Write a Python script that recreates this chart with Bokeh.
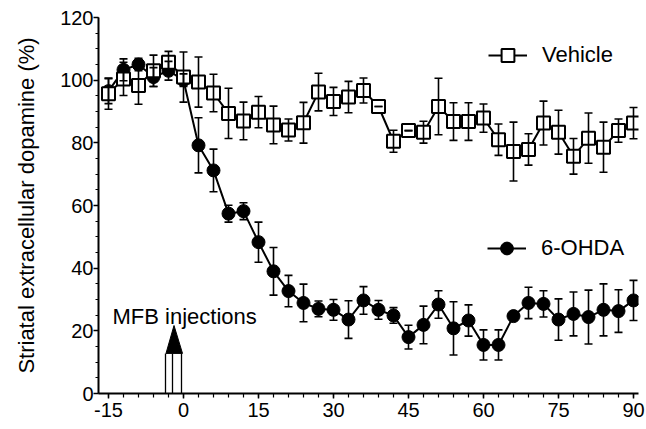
from bokeh.plotting import figure
from bokeh.models import (ColumnDataSource, Whisker, TeeHead, FixedTicker, Range1d,
                          Legend, LegendItem)
from bokeh.core.properties import value
from bokeh.embed import file_html
from bokeh.resources import INLINE

# ---------------- data ----------------
time_min = [-15, -12, -9, -6, -3, 0, 3, 6, 9, 12, 15, 18, 21, 24, 27, 30, 33, 36,
            39, 42, 45, 48, 51, 54, 57, 60, 63, 66, 69, 72, 75, 78, 81, 84, 87, 90]

vehicle_mean = [95.7, 100.4, 98.3, 103.0, 105.7, 101.0, 99.4, 95.9, 89.4, 87.0, 89.8, 85.7,
                84.1, 86.4, 96.2, 93.2, 94.6, 96.7, 91.6, 80.5, 83.9, 83.4, 91.6, 86.8,
                86.8, 87.9, 81.0, 77.2, 77.9, 86.3, 83.4, 75.7, 81.5, 78.6, 83.9, 86.3]
vehicle_sem = [5.0, 5.3, 6.0, 5.0, 3.5, 8.0, 8.0, 6.0, 8.0, 6.0, 5.0, 6.0,
               3.5, 6.5, 6.0, 4.5, 5.0, 4.0, 0.0, 3.5, 0.0, 3.5, 9.0, 6.0,
               6.0, 4.5, 5.0, 9.4, 5.0, 7.0, 7.0, 5.7, 8.0, 8.0, 3.7, 5.0]

ohda_mean = [96.5, 103.3, 105.0, 101.0, 103.0, 100.0, 79.2, 71.2, 57.4, 58.2, 48.3, 39.0,
             32.7, 28.9, 27.0, 26.7, 23.6, 29.7, 26.7, 24.9, 18.0, 21.9, 28.4, 20.8,
             23.3, 15.5, 15.5, 24.7, 28.9, 28.6, 23.6, 25.4, 24.4, 26.7, 26.3, 29.7]
ohda_sem = [4.0, 3.5, 2.0, 3.0, 3.0, 2.0, 8.8, 6.8, 2.7, 2.7, 6.4, 7.6,
            5.0, 6.0, 2.5, 3.3, 6.0, 4.4, 3.0, 2.5, 3.8, 6.0, 4.4, 8.5,
            5.0, 4.8, 4.8, 0.0, 5.0, 4.2, 6.6, 7.0, 8.6, 8.3, 6.8, 6.4]

x_ticks = [-15, 0, 15, 30, 45, 60, 75, 90]
x_tick_labels = ["-15", "0", "15", "30", "45", "60", "75", "90"]
y_ticks = [0, 20, 40, 60, 80, 100, 120]

series_names = ["Vehicle", "6-OHDA"]
y_title = "Striatal extracellular dopamine (%)"
note_text = "MFB injections"
note_pos = (-14.2, 24.6)
arrow_x = -2.0          # injection time
arrow_shaft_top = 12.8
arrow_tip = 21.7

FONT = "Liberation Sans"

# ---------------- figure ----------------
p = figure(width=646, height=429, output_backend="svg", toolbar_location=None,
           x_range=Range1d(-17, 91), y_range=Range1d(0, 120),
           min_border_left=98, min_border_right=8, min_border_top=17, min_border_bottom=36)
p.outline_line_color = None
p.grid.visible = False
p.background_fill_color = "white"

for ax in (p.xaxis[0], p.yaxis[0]):
    ax.axis_line_width = 2
    ax.axis_line_color = "black"
    ax.major_tick_line_width = 1.5
    ax.minor_tick_line_width = 1.2
    ax.major_tick_in = 0
    ax.minor_tick_in = 0
    ax.major_label_text_font = FONT
    ax.major_label_text_font_size = "20px"
    ax.major_label_text_color = "black"

p.xaxis.ticker = FixedTicker(ticks=x_ticks, minor_ticks=list(range(-15, 91, 3)))
p.xaxis.major_label_overrides = {t: lab for t, lab in zip(x_ticks, x_tick_labels)}
p.yaxis.ticker = FixedTicker(ticks=y_ticks, minor_ticks=list(range(0, 121, 5)))
p.xaxis.major_tick_out = 5
p.xaxis.minor_tick_out = 4
p.xaxis.major_label_standoff = 4
p.yaxis.major_tick_out = 5
p.yaxis.minor_tick_out = 3
p.yaxis.major_label_standoff = 0

p.yaxis.axis_label = y_title
p.yaxis.axis_label_text_font = FONT
p.yaxis.axis_label_text_font_size = "22px"
p.yaxis.axis_label_text_font_style = "normal"
p.yaxis.axis_label_standoff = 18
p.yaxis.axis_label_text_color = "black"

# ---------------- arrow ----------------
shaft_xs = [arrow_x - 1.6, arrow_x - 0.2, arrow_x + 1.6]
p.segment(x0=shaft_xs, y0=[0] * 3, x1=shaft_xs, y1=[arrow_shaft_top] * 3,
          line_color="black", line_width=1.3)
p.patch(x=[arrow_x - 1.5, arrow_x + 1.8, arrow_x + 0.1],
        y=[arrow_shaft_top, arrow_shaft_top, arrow_tip],
        fill_color="black", line_color="black", line_width=1)
p.text(x=[note_pos[0]], y=[note_pos[1]], text=[note_text], text_font=value(FONT),
       text_font_size="22px", text_baseline="alphabetic", text_align="left",
       text_color="black")

# ---------------- series ----------------
src_o = ColumnDataSource(dict(x=time_min, y=ohda_mean,
                              lo=[m - s for m, s in zip(ohda_mean, ohda_sem)],
                              hi=[m + s for m, s in zip(ohda_mean, ohda_sem)]))
src_v = ColumnDataSource(dict(x=time_min, y=vehicle_mean,
                              lo=[m - s for m, s in zip(vehicle_mean, vehicle_sem)],
                              hi=[m + s for m, s in zip(vehicle_mean, vehicle_sem)]))

for src in (src_o, src_v):
    w = Whisker(source=src, base="x", lower="lo", upper="hi", line_color="black",
                line_width=1.6, level="glyph",
                upper_head=TeeHead(size=8, line_width=1.6, line_color="black"),
                lower_head=TeeHead(size=8, line_width=1.6, line_color="black"))
    p.add_layout(w)

o_line = p.line("x", "y", source=src_o, line_color="black", line_width=2)
o_pts = p.scatter("x", "y", source=src_o, marker="circle", size=13,
                  fill_color="black", line_color="black", line_width=1)

v_line = p.line("x", "y", source=src_v, line_color="black", line_width=2)
v_pts = p.scatter("x", "y", source=src_v, marker="square", size=13,
                  fill_color="white", line_color="black", line_width=2)

common = dict(padding=0, margin=0, spacing=0, glyph_width=39, glyph_height=32,
              label_height=32, label_standoff=15, border_line_alpha=0,
              background_fill_alpha=0, label_text_font=FONT,
              label_text_font_size="22px", label_text_color="black")
leg_v = Legend(items=[LegendItem(label=series_names[0], renderers=[v_line, v_pts])],
               location=(390, 322), **common)
leg_o = Legend(items=[LegendItem(label=series_names[1], renderers=[o_line, o_pts])],
               location=(389, 129), **common)
p.add_layout(leg_v, "center")
p.add_layout(leg_o, "center")

open("out.html", "w").write(file_html(p, INLINE))
